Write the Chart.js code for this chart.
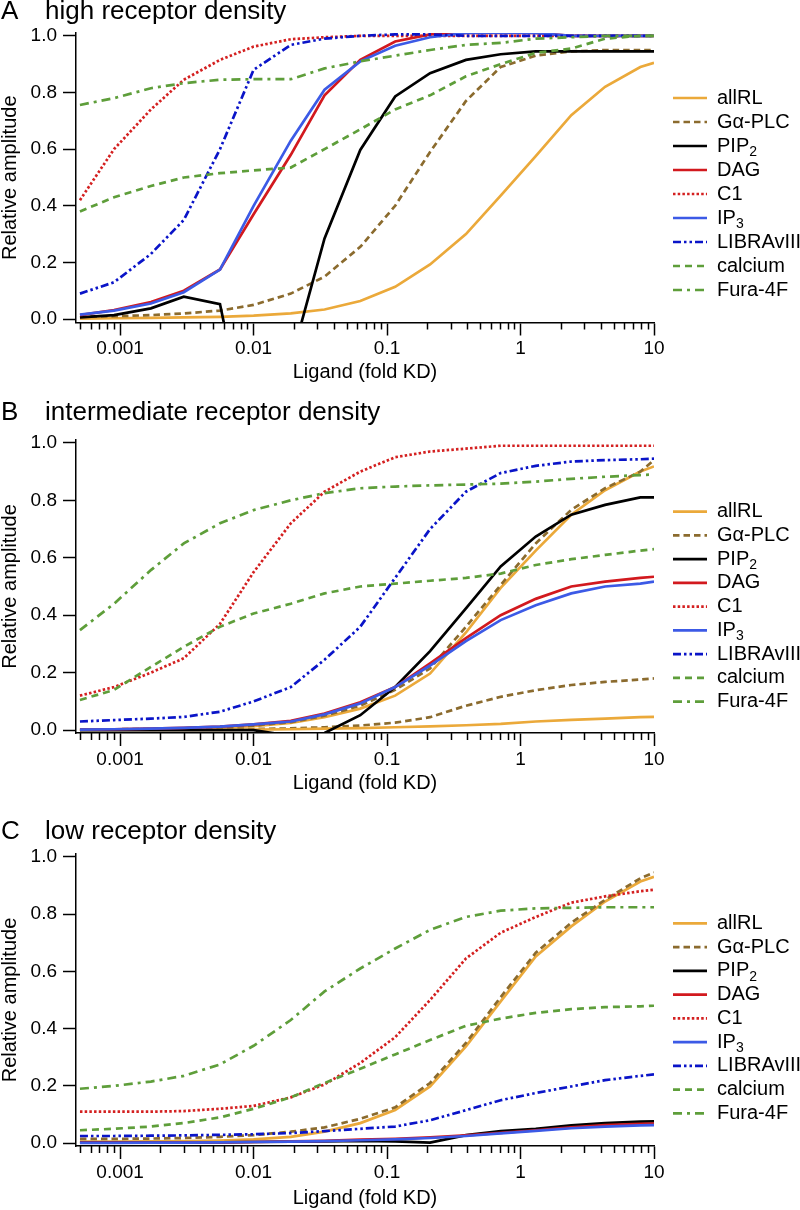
<!DOCTYPE html>
<html>
<head>
<meta charset="utf-8">
<script src="https://cdn.jsdelivr.net/npm/chart.js@4.4.1/dist/chart.umd.min.js"></script>
<style>
  body { margin: 0; background: #fff; }
  #wrap { position: relative; width: 800px; height: 1210px; }
  canvas { position: absolute; left: 0; }
</style>
</head>
<body>
<div id="wrap">
  <canvas id="chartA" width="800" height="400" style="top:0px"></canvas>
  <canvas id="chartB" width="800" height="400" style="top:400px"></canvas>
  <canvas id="chartC" width="800" height="410" style="top:800px"></canvas>
</div>
<script>
// ligand concentrations (fold KD), shared by every curve
const ligand = [0.0005, 0.0009, 0.0017, 0.003, 0.0056, 0.01, 0.019, 0.034, 0.063,
                0.115, 0.21, 0.39, 0.71, 1.3, 2.4, 4.3, 7.9, 10];

const xTicks = [0.0005, 0.0006, 0.0007, 0.0008, 0.0009,
                0.001, 0.002, 0.003, 0.004, 0.005, 0.006, 0.007, 0.008, 0.009,
                0.01, 0.02, 0.03, 0.04, 0.05, 0.06, 0.07, 0.08, 0.09,
                0.1, 0.2, 0.3, 0.4, 0.5, 0.6, 0.7, 0.8, 0.9,
                1, 2, 3, 4, 5, 6, 7, 8, 9, 10];
const xLabels = [0.001, 0.01, 0.1, 1, 10];
const yTicks = [0, 0.2, 0.4, 0.6, 0.8, 1.0];

// A: high receptor density
const hiAllRL   = [0.002, 0.003, 0.004, 0.006, 0.008, 0.012, 0.02, 0.034, 0.064, 0.114, 0.193, 0.30, 0.436, 0.575, 0.72, 0.82, 0.89, 0.905];
const hiGaPLC   = [0.008, 0.01, 0.014, 0.02, 0.03, 0.05, 0.09, 0.15, 0.255, 0.40, 0.59, 0.77, 0.89, 0.93, 0.945, 0.95, 0.95, 0.95];
const hiPIP2    = [0.006, 0.014, 0.038, 0.079, 0.053, -0.52, -0.15, 0.285, 0.597, 0.786, 0.868, 0.915, 0.935, 0.945, 0.945, 0.945, 0.945, 0.945];
const hiDAG     = [0.014, 0.032, 0.06, 0.10, 0.175, 0.37, 0.58, 0.79, 0.915, 0.98, 1.005, 1.01, 1.01, 1.01, 1.0, 1.0, 1.0, 1.0];
const hiC1      = [0.42, 0.60, 0.74, 0.845, 0.915, 0.962, 0.988, 0.995, 1.0, 1.0, 1.0, 1.0, 1.0, 1.0, 1.0, 1.0, 1.0, 1.0];
const hiIP3     = [0.016, 0.03, 0.055, 0.095, 0.175, 0.40, 0.63, 0.81, 0.91, 0.965, 0.995, 1.01, 1.012, 1.01, 1.0, 1.0, 1.0, 1.0];
const hiLIBRA   = [0.09, 0.13, 0.23, 0.35, 0.60, 0.88, 0.968, 0.99, 1.0, 1.005, 1.005, 1.0, 1.0, 1.0, 1.0, 1.0, 1.0, 1.0];
const hiCalcium = [0.38, 0.43, 0.47, 0.50, 0.515, 0.525, 0.535, 0.60, 0.67, 0.74, 0.79, 0.857, 0.90, 0.94, 0.955, 0.99, 1.0, 1.0];
const hiFura    = [0.756, 0.78, 0.815, 0.833, 0.845, 0.847, 0.847, 0.885, 0.91, 0.93, 0.95, 0.968, 0.975, 0.99, 0.995, 1.0, 1.0, 1.0];

// B: intermediate receptor density
const midAllRL   = [0.002, 0.003, 0.004, 0.006, 0.009, 0.014, 0.025, 0.045, 0.075, 0.12, 0.197, 0.34, 0.495, 0.625, 0.75, 0.835, 0.90, 0.918];
const midGaPLC   = [0.002, 0.003, 0.004, 0.006, 0.01, 0.016, 0.028, 0.05, 0.085, 0.14, 0.215, 0.36, 0.505, 0.65, 0.767, 0.842, 0.90, 0.94];
const midPIP2    = [0, 0, 0, 0, 0, 0, -0.02, -0.01, 0.052, 0.15, 0.275, 0.424, 0.57, 0.674, 0.75, 0.784, 0.81, 0.81];
const midDAG     = [0.002, 0.003, 0.005, 0.008, 0.012, 0.02, 0.032, 0.058, 0.097, 0.15, 0.232, 0.32, 0.40, 0.457, 0.50, 0.517, 0.53, 0.534];
const midC1      = [0.12, 0.15, 0.20, 0.25, 0.37, 0.55, 0.72, 0.83, 0.90, 0.95, 0.97, 0.98, 0.99, 0.99, 0.99, 0.99, 0.99, 0.99];
const midIP3     = [0.002, 0.003, 0.005, 0.008, 0.012, 0.02, 0.03, 0.055, 0.093, 0.15, 0.225, 0.31, 0.383, 0.435, 0.476, 0.50, 0.51, 0.517];
const midLIBRA   = [0.03, 0.035, 0.04, 0.046, 0.064, 0.10, 0.15, 0.245, 0.36, 0.53, 0.70, 0.83, 0.895, 0.92, 0.935, 0.94, 0.943, 0.945];
const midCalcium = [0.105, 0.14, 0.22, 0.29, 0.36, 0.406, 0.44, 0.476, 0.50, 0.51, 0.52, 0.53, 0.545, 0.575, 0.595, 0.61, 0.625, 0.63];
const midFura    = [0.348, 0.44, 0.557, 0.65, 0.72, 0.766, 0.80, 0.825, 0.842, 0.848, 0.852, 0.855, 0.858, 0.865, 0.875, 0.882, 0.888, 0.89];
// second, lower allRL / Gα-PLC traces drawn in panel B
const midAllRL2  = [0.001, 0.001, 0.001, 0.001, 0.001, 0.002, 0.003, 0.005, 0.007, 0.01, 0.013, 0.017, 0.022, 0.03, 0.036, 0.04, 0.045, 0.046];
const midGaPLC2  = [0.002, 0.002, 0.002, 0.002, 0.002, 0.004, 0.006, 0.01, 0.016, 0.026, 0.045, 0.085, 0.116, 0.139, 0.157, 0.168, 0.176, 0.18];

// C: low receptor density
const lowAllRL   = [0.005, 0.005, 0.006, 0.007, 0.009, 0.013, 0.022, 0.04, 0.07, 0.116, 0.198, 0.338, 0.495, 0.652, 0.757, 0.844, 0.914, 0.93];
const lowGaPLC   = [0.015, 0.015, 0.016, 0.018, 0.022, 0.028, 0.04, 0.055, 0.085, 0.125, 0.21, 0.35, 0.51, 0.665, 0.77, 0.85, 0.925, 0.945];
const lowPIP2    = [0.003, 0.003, 0.003, 0.003, 0.003, 0.004, 0.005, 0.006, 0.008, 0.006, 0.002, 0.028, 0.042, 0.05, 0.062, 0.07, 0.075, 0.076];
const lowDAG     = [0.002, 0.002, 0.002, 0.003, 0.003, 0.004, 0.006, 0.008, 0.012, 0.015, 0.02, 0.027, 0.036, 0.045, 0.055, 0.063, 0.067, 0.068];
const lowC1      = [0.11, 0.11, 0.11, 0.112, 0.12, 0.13, 0.16, 0.205, 0.28, 0.37, 0.50, 0.645, 0.735, 0.79, 0.84, 0.862, 0.88, 0.885];
const lowIP3     = [0.001, 0.001, 0.002, 0.002, 0.003, 0.004, 0.005, 0.007, 0.01, 0.013, 0.018, 0.025, 0.034, 0.043, 0.052, 0.058, 0.062, 0.063];
const lowLIBRA   = [0.025, 0.025, 0.026, 0.027, 0.029, 0.031, 0.035, 0.042, 0.05, 0.058, 0.08, 0.115, 0.15, 0.175, 0.198, 0.22, 0.235, 0.24];
const lowCalcium = [0.045, 0.05, 0.058, 0.07, 0.09, 0.12, 0.16, 0.21, 0.26, 0.31, 0.36, 0.41, 0.435, 0.455, 0.468, 0.475, 0.478, 0.48];
const lowFura    = [0.19, 0.20, 0.215, 0.235, 0.275, 0.34, 0.43, 0.53, 0.61, 0.68, 0.745, 0.79, 0.812, 0.82, 0.822, 0.824, 0.824, 0.824];

// line styles, in legend order
const series = [
  { name: 'allRL',     color: '#EBA93A', dash: [] },
  { name: 'G\u03B1-PLC', color: '#8B6B2E', dash: [6.5, 4] },
  { name: 'PIP', sub: '2', color: '#000000', dash: [] },
  { name: 'DAG',       color: '#D2191E', dash: [] },
  { name: 'C1',        color: '#D42020', dash: [2.5, 2.2] },
  { name: 'IP', sub: '3', color: '#3C5AE6', dash: [] },
  { name: 'LIBRAvIII', color: '#0A14C8', dash: [8, 3, 2.5, 3, 2.5, 3] },
  { name: 'calcium',   color: '#5E9E3A', dash: [7, 5] },
  { name: 'Fura-4F',   color: '#5E9E3A', dash: [9, 5, 3, 5] }
];
const lineW = 2.7;
const FONT = '"Liberation Sans", Arial, Helvetica, sans-serif';
Chart.defaults.font.family = FONT;
Chart.defaults.color = '#000';

const panelDecor = {
  id: 'panelDecor',
  afterDraw(chart, args, opts) {
    const { ctx, chartArea, scales } = chart;
    const xs = scales.x;
    ctx.save();
    // minor ticks on the log axis
    ctx.strokeStyle = '#000';
    ctx.lineWidth = 1.5;
    xs.ticks.forEach(t => {
      if (xLabels.includes(t.value)) return;
      const px = Math.round(xs.getPixelForValue(t.value)) + 0.5;
      ctx.beginPath();
      ctx.moveTo(px, chartArea.bottom);
      ctx.lineTo(px, chartArea.bottom + 7);
      ctx.stroke();
    });
    // panel heading
    ctx.fillStyle = '#000';
    ctx.textBaseline = 'middle';
    ctx.textAlign = 'left';
    ctx.font = '26px ' + FONT;
    ctx.fillText(opts.letter, 1, opts.titleY);
    ctx.fillText(opts.title, 45, opts.titleY);
    // legend
    series.forEach((s, i) => {
      const y = opts.legendTop + i * opts.legendStep;
      ctx.strokeStyle = s.color;
      ctx.lineWidth = lineW;
      ctx.setLineDash(s.dash);
      ctx.beginPath();
      ctx.moveTo(673, y);
      ctx.lineTo(707, y);
      ctx.stroke();
      ctx.setLineDash([]);
      ctx.font = '20px ' + FONT;
      ctx.fillText(s.name, 717, y);
      if (s.sub) {
        const w = ctx.measureText(s.name).width;
        ctx.font = '14px ' + FONT;
        ctx.fillText(s.sub, 717 + w, y + 6);
      }
    });
    ctx.restore();
  }
};

function makeDataset(styleIdx, values, order) {
  const s = series[styleIdx];
  return {
    label: s.name + (s.sub || ''),
    data: ligand.map((x, i) => ({ x: x, y: values[i] })),
    borderColor: s.color,
    backgroundColor: s.color,
    borderWidth: lineW,
    borderDash: s.dash,
    pointRadius: 0,
    tension: 0,
    fill: false,
    order: order
  };
}

function makePanel(id, p) {
  const datasets = [];
  p.extra.forEach(e => datasets.push(makeDataset(e.style, e.values, 20)));
  p.values.forEach((v, i) => datasets.push(makeDataset(i, v, -i)));
  new Chart(document.getElementById(id), {
    type: 'line',
    data: { datasets: datasets },
    plugins: [panelDecor],
    options: {
      responsive: false,
      animation: false,
      events: [],
      layout: { padding: { left: 0, right: 146, top: p.padTop, bottom: p.padBottom } },
      plugins: {
        legend: { display: false },
        tooltip: { enabled: false },
        panelDecor: { letter: p.letter, title: p.title, titleY: p.titleY,
                      legendTop: p.legendTop, legendStep: p.legendStep }
      },
      scales: {
        x: {
          type: 'logarithmic',
          min: 0.000467,
          max: 10,
          afterBuildTicks: s => { s.ticks = xTicks.map(v => ({ value: v, major: xLabels.includes(v) })); },
          afterFit: s => { s.height = p.xH; },
          ticks: {
            autoSkip: false,
            maxRotation: 0,
            padding: 2,
            font: { size: 19 },
            callback: v => xLabels.includes(v) ? String(v) : ''
          },
          grid: {
            drawOnChartArea: false,
            drawTicks: true,
            tickLength: 13,
            tickWidth: 1.5,
            tickColor: c => (c.tick && xLabels.includes(c.tick.value)) ? '#000' : 'rgba(0,0,0,0)'
          },
          border: { display: true, color: '#000', width: 1.5 },
          title: { display: true, text: 'Ligand (fold KD)', font: { size: 20, lineHeight: 1 }, padding: 0 }
        },
        y: {
          min: p.yMin,
          max: 1.01,
          afterBuildTicks: s => { s.ticks = yTicks.map(v => ({ value: v })); },
          afterFit: s => { s.width = 76; },
          ticks: {
            padding: 6,
            font: { size: 19 },
            callback: v => v.toFixed(1)
          },
          grid: {
            drawOnChartArea: false,
            drawTicks: true,
            tickLength: 13,
            tickWidth: 1.5,
            tickColor: '#000'
          },
          border: { display: true, color: '#000', width: 1.5 },
          title: { display: true, text: 'Relative amplitude', font: { size: 20, lineHeight: 1 }, padding: 0 }
        }
      }
    }
  });
}

makePanel('chartA', {
  letter: 'A', title: 'high receptor density', titleY: 12,
  padTop: 33, padBottom: 17.5, xH: 60, yMin: -0.012,
  legendTop: 98, legendStep: 24,
  values: [hiAllRL, hiGaPLC, hiPIP2, hiDAG, hiC1, hiIP3, hiLIBRA, hiCalcium, hiFura],
  extra: []
});

makePanel('chartB', {
  letter: 'B', title: 'intermediate receptor density', titleY: 13,
  padTop: 40, padBottom: 7, xH: 60, yMin: -0.01,
  legendTop: 111.7, legendStep: 23.75,
  values: [midAllRL, midGaPLC, midPIP2, midDAG, midC1, midIP3, midLIBRA, midCalcium, midFura],
  extra: [{ style: 0, values: midAllRL2 }, { style: 1, values: midGaPLC2 }]
});

makePanel('chartC', {
  letter: 'C', title: 'low receptor density', titleY: 32,
  padTop: 54, padBottom: 2, xH: 62, yMin: -0.01,
  legendTop: 123.3, legendStep: 23.75,
  values: [lowAllRL, lowGaPLC, lowPIP2, lowDAG, lowC1, lowIP3, lowLIBRA, lowCalcium, lowFura],
  extra: []
});
</script>
</body>
</html>
